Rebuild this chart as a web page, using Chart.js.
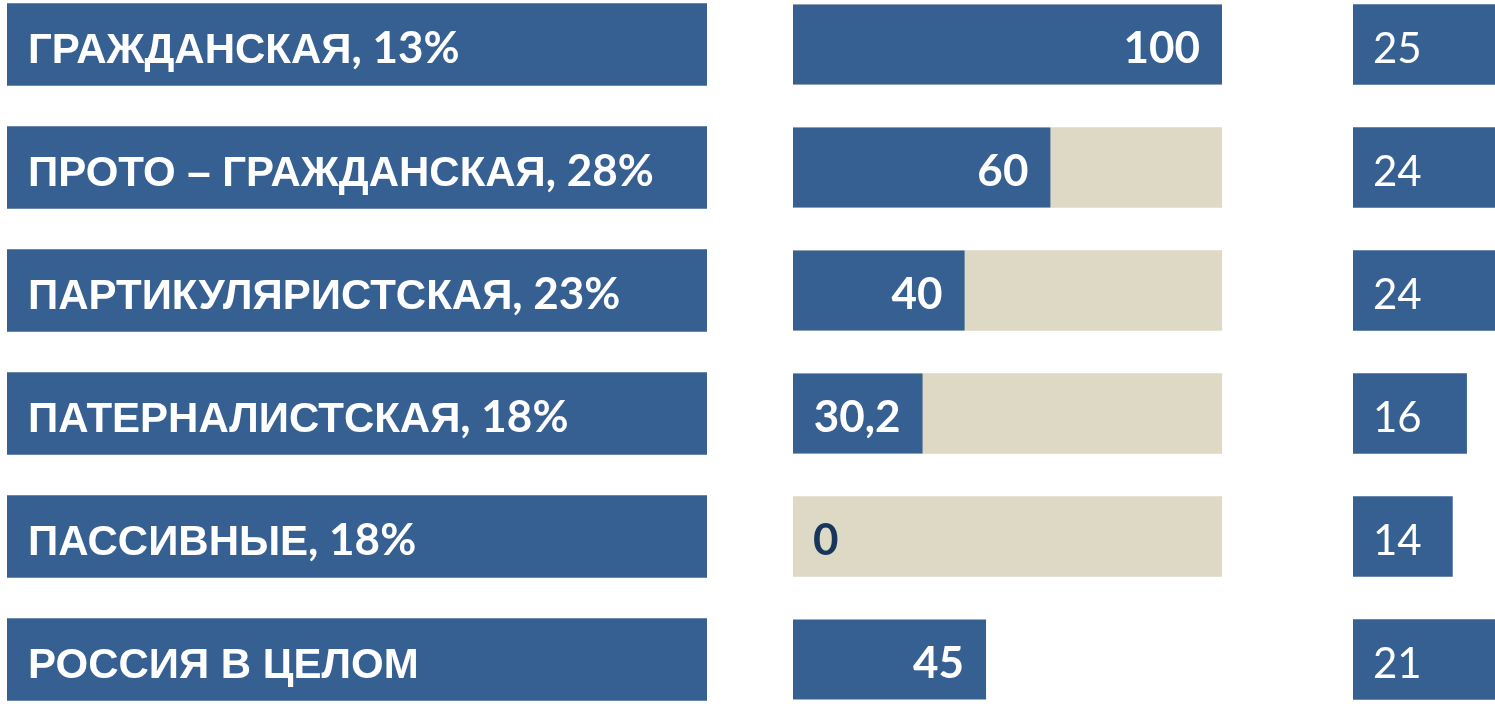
<!DOCTYPE html>
<html lang="ru">

<head>
    <title>Типы политической культуры</title>
    <meta charset="utf-8" />
    <script src="https://cdn.jsdelivr.net/npm/chart.js"></script>
    <style>
        html, body { margin: 0; padding: 0; background: #fff; overflow: hidden; }
        .lienzo { position: relative; width: 1495px; height: 706px; overflow: hidden; }
        .lienzo canvas { position: absolute; top: -17px; }
    </style>
</head>

<body>
    <div class="lienzo">
        <canvas id="tipos" width="700" height="738" style="left:7px"></canvas>
        <canvas id="indice" width="429" height="738" style="left:793px"></canvas>
        <canvas id="segundo" width="142" height="738" style="left:1353px"></canvas>
    </div>

    <script>
        const categorias = ["ГРАЖДАНСКАЯ", "ПРОТО – ГРАЖДАНСКАЯ", "ПАРТИКУЛЯРИСТСКАЯ", "ПАТЕРНАЛИСТСКАЯ", "ПАССИВНЫЕ", "РОССИЯ В ЦЕЛОМ"];
        const doles = [13, 28, 23, 18, 18, null];
        const indice = [100, 60, 40, 30.2, 0, 45];
        const indiceEtiquetas = ["100", "60", "40", "30,2", "0", "45"];
        const indiceMax = [100, 100, 100, 100, 100, null];
        const segundo = [25, 24, 24, 16, 14, 21];

        const AZUL = '#376092';
        const BEIGE = '#ddd9c4';

        function escalas(max) {
            return {
                x: { display: false, min: 0, max: max },
                y: { display: false }
            };
        }

        const base = {
            indexAxis: 'y',
            responsive: false,
            animation: false,
            layout: { padding: 0 },
            plugins: { legend: { display: false }, tooltip: { enabled: false } }
        };

        // columna izquierda: cajas con el nombre del tipo
        new Chart(document.getElementById('tipos'), {
            type: 'bar',
            data: {
                labels: categorias,
                datasets: [{
                    data: categorias.map(() => 1),
                    backgroundColor: AZUL,
                    barThickness: 82
                }]
            },
            options: { ...base, scales: escalas(1) },
            plugins: [{
                id: 'nombres',
                afterDatasetsDraw(chart) {
                    const ctx = chart.ctx;
                    chart.getDatasetMeta(0).data.forEach((bar, i) => {
                        let x = bar.base + 21;
                        const y = bar.y + 18;
                        ctx.save();
                        ctx.fillStyle = '#fff';
                        ctx.textBaseline = 'alphabetic';
                        ctx.font = 'bold 42px "Liberation Sans"';
                        ctx.fillText(categorias[i], x, y);
                        x += ctx.measureText(categorias[i]).width;
                        if (doles[i] != null) {
                            ctx.font = 'bold 44px Lato';
                            ctx.fillText(', ' + doles[i] + '%', x, y);
                        }
                        ctx.restore();
                    });
                }
            }]
        });

        // columna central: índice sobre fondo beige
        new Chart(document.getElementById('indice'), {
            type: 'bar',
            data: {
                labels: categorias,
                datasets: [{
                    data: indice,
                    backgroundColor: AZUL,
                    barThickness: 80,
                    inflateAmount: 0,
                    grouped: false
                }, {
                    data: indiceMax,
                    backgroundColor: BEIGE,
                    barThickness: 80,
                    grouped: false
                }]
            },
            options: { ...base, scales: escalas(100) },
            plugins: [{
                id: 'valores',
                afterDatasetsDraw(chart) {
                    const ctx = chart.ctx;
                    chart.getDatasetMeta(0).data.forEach((bar, i) => {
                        ctx.save();
                        ctx.font = 'bold 44px Lato';
                        ctx.textBaseline = 'alphabetic';
                        if (indice[i] === 0) {
                            ctx.fillStyle = '#17365d';
                            ctx.textAlign = 'left';
                            ctx.fillText(indiceEtiquetas[i], bar.base + 20, bar.y + 18);
                        } else {
                            ctx.fillStyle = '#fff';
                            ctx.textAlign = 'right';
                            ctx.fillText(indiceEtiquetas[i], bar.x - 22, bar.y + 18);
                        }
                        ctx.restore();
                    });
                }
            }]
        });

        // columna derecha
        new Chart(document.getElementById('segundo'), {
            type: 'bar',
            data: {
                labels: categorias,
                datasets: [{
                    data: segundo,
                    backgroundColor: AZUL,
                    barThickness: 80
                }]
            },
            options: { ...base, scales: escalas(20) },
            plugins: [{
                id: 'numeros',
                afterDatasetsDraw(chart) {
                    const ctx = chart.ctx;
                    chart.getDatasetMeta(0).data.forEach((bar, i) => {
                        ctx.save();
                        ctx.font = '42px Lato';
                        ctx.fillStyle = '#fff';
                        ctx.textBaseline = 'alphabetic';
                        ctx.fillText(String(segundo[i]), bar.base + 20, bar.y + 18);
                        ctx.restore();
                    });
                }
            }]
        });
    </script>
</body>

</html>
